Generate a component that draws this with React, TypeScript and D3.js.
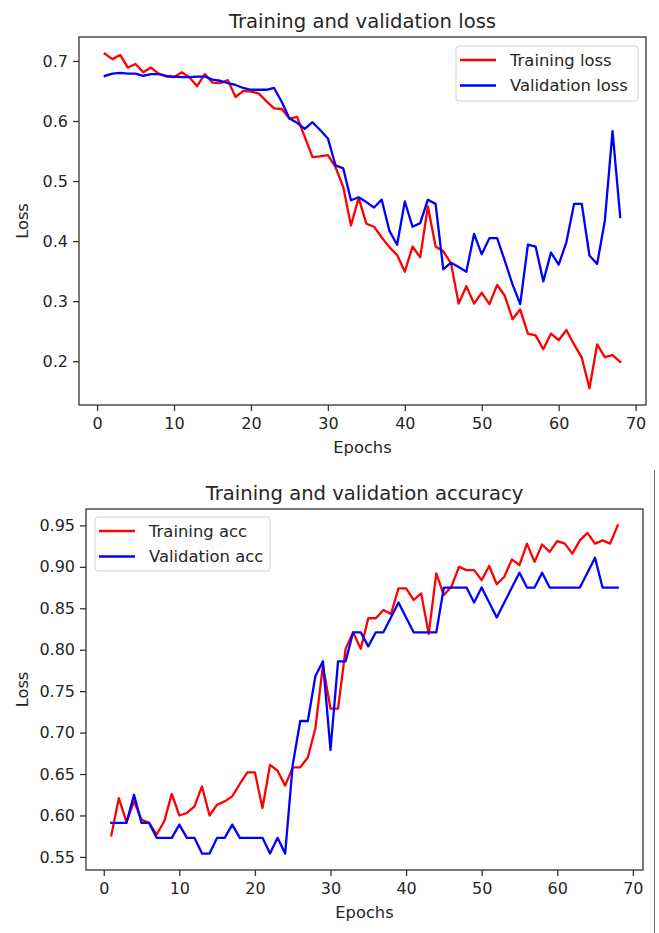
import React, { useRef, useEffect } from "react";
import * as d3 from "d3";

// values, one per epoch (1..68)
const trainLoss = [
  0.712, 0.703, 0.71, 0.689, 0.695, 0.681, 0.689, 0.679, 0.674, 0.673,
  0.681, 0.673, 0.658, 0.678, 0.664, 0.663, 0.668, 0.64, 0.65, 0.649,
  0.646, 0.633, 0.621, 0.62, 0.604, 0.607, 0.573, 0.54, 0.541, 0.543,
  0.523, 0.49, 0.426, 0.472, 0.429, 0.424, 0.406, 0.39, 0.377, 0.349,
  0.391, 0.373, 0.458, 0.391, 0.383, 0.363, 0.296, 0.325, 0.296, 0.314,
  0.295, 0.327, 0.309, 0.27, 0.286, 0.246, 0.243, 0.22, 0.246, 0.235,
  0.252, 0.228, 0.206, 0.155, 0.228, 0.207, 0.21, 0.199,
];
const valLoss = [
  0.675, 0.679, 0.68, 0.679, 0.679, 0.675, 0.678, 0.678, 0.675, 0.674,
  0.673, 0.673, 0.674, 0.674, 0.669, 0.667, 0.663, 0.66, 0.655, 0.652,
  0.652, 0.652, 0.655, 0.632, 0.604, 0.597, 0.587, 0.598, 0.585, 0.571,
  0.526, 0.521, 0.468, 0.473, 0.465, 0.456, 0.469, 0.417, 0.394, 0.466,
  0.424, 0.43, 0.469, 0.462, 0.353, 0.364, 0.357, 0.349, 0.412, 0.378,
  0.405, 0.405, 0.367, 0.328, 0.295, 0.394, 0.391, 0.333, 0.381, 0.361,
  0.398, 0.462, 0.462, 0.376, 0.362, 0.434, 0.583, 0.44,
];
const trainAcc = [
  0.576, 0.621, 0.592, 0.617, 0.595, 0.591, 0.577, 0.593, 0.626, 0.6,
  0.603, 0.611, 0.635, 0.6, 0.613, 0.617, 0.623, 0.638, 0.652, 0.652,
  0.609, 0.661, 0.654, 0.636, 0.658, 0.658, 0.67, 0.705, 0.781, 0.729,
  0.729, 0.801, 0.821, 0.801, 0.838, 0.838, 0.848, 0.843, 0.874, 0.874,
  0.86, 0.868, 0.819, 0.892, 0.866, 0.876, 0.9, 0.896, 0.896, 0.884,
  0.901, 0.879, 0.888, 0.909, 0.902, 0.928, 0.906, 0.927, 0.918, 0.931,
  0.928, 0.916, 0.932, 0.941, 0.928, 0.932, 0.928, 0.95,
];
const valAcc = [
  0.591, 0.591, 0.591, 0.625, 0.591, 0.591, 0.573, 0.573, 0.573, 0.589,
  0.573, 0.573, 0.554, 0.554, 0.573, 0.573, 0.589, 0.573, 0.573, 0.573,
  0.573, 0.554, 0.573, 0.554, 0.661, 0.714, 0.714, 0.768, 0.786, 0.679,
  0.786, 0.786, 0.821, 0.821, 0.804, 0.821, 0.821, 0.839, 0.857, 0.839,
  0.821, 0.821, 0.821, 0.821, 0.875, 0.875, 0.875, 0.875, 0.857, 0.875,
  0.857, 0.839, 0.857, 0.875, 0.893, 0.875, 0.875, 0.893, 0.875, 0.875,
  0.875, 0.875, 0.875, 0.893, 0.911, 0.875, 0.875, 0.875,
];

const xTicks = [0, 10, 20, 30, 40, 50, 60, 70];
const lossTicks = [0.2, 0.3, 0.4, 0.5, 0.6, 0.7];
const accTicks = [0.55, 0.6, 0.65, 0.7, 0.75, 0.8, 0.85, 0.9, 0.95];

const FONT = "DejaVu Sans";
const TEXT = "#262626";

// matplotlib style auto limits: 5% margin on the data range
const padded = (vals) => {
  const [lo, hi] = d3.extent(vals);
  const m = (hi - lo) * 0.05;
  return [lo - m, hi + m];
};

function drawPanel(svg, o) {
  const g = svg.append("g");
  const epochs = o.series[0].values.map((_, i) => i + 1);

  const x = d3
    .scaleLinear()
    .domain(padded(epochs))
    .range([o.left, o.right]);
  const y = d3
    .scaleLinear()
    .domain(padded(o.series.flatMap((s) => s.values)))
    .range([o.bottom, o.top]);

  const line = (vals) =>
    d3
      .line()
      .x((d, i) => x(i + 1))
      .y((d) => y(d))(vals);

  g.selectAll("path.series")
    .data(o.series)
    .enter()
    .append("path")
    .attr("class", "series")
    .attr("d", (s) => line(s.values))
    .attr("fill", "none")
    .attr("stroke", (s) => s.color)
    .attr("stroke-width", 2.3)
    .attr("stroke-linejoin", "round")
    .attr("stroke-linecap", "square");

  // x axis
  const xa = g
    .append("g")
    .attr("transform", `translate(0,${o.bottom})`)
    .call(
      d3.axisBottom(x).tickValues(xTicks).tickSize(6).tickPadding(7).tickSizeOuter(0)
    );
  // y axis
  const ya = g
    .append("g")
    .attr("transform", `translate(${o.left},0)`)
    .call(
      d3
        .axisLeft(y)
        .tickValues(o.yTicks)
        .tickFormat(d3.format(o.yFormat))
        .tickSize(6)
        .tickPadding(5)
        .tickSizeOuter(0)
    );
  [xa, ya].forEach((a) => {
    a.select(".domain").remove();
    a.selectAll("line").attr("stroke", "#333").attr("stroke-width", 1.3);
    a.selectAll("text")
      .attr("fill", TEXT)
      .style("font-family", FONT)
      .style("font-size", "16px");
  });

  // spines
  g.append("rect")
    .attr("x", o.left)
    .attr("y", o.top)
    .attr("width", o.right - o.left)
    .attr("height", o.bottom - o.top)
    .attr("fill", "none")
    .attr("stroke", "#333")
    .attr("stroke-width", 1.3);

  const cx = (o.left + o.right) / 2;
  g.append("text")
    .attr("x", cx)
    .attr("y", o.top - 9)
    .attr("text-anchor", "middle")
    .attr("fill", TEXT)
    .style("font-family", FONT)
    .style("font-size", "19.6px")
    .text(o.title);

  g.append("text")
    .attr("x", cx)
    .attr("y", o.bottom + 48)
    .attr("text-anchor", "middle")
    .attr("fill", TEXT)
    .style("font-family", FONT)
    .style("font-size", "16.3px")
    .text("Epochs");

  g.append("text")
    .attr(
      "transform",
      `translate(28,${(o.top + o.bottom) / 2}) rotate(-90)`
    )
    .attr("text-anchor", "middle")
    .attr("fill", TEXT)
    .style("font-family", FONT)
    .style("font-size", "16.3px")
    .text("Loss");

  // legend
  const lg = g.append("g").attr("transform", `translate(${o.legend.x},${o.legend.y})`);
  lg.append("rect")
    .attr("width", o.legend.w)
    .attr("height", o.legend.h)
    .attr("rx", 3)
    .attr("fill", "white")
    .attr("fill-opacity", 0.8)
    .attr("stroke", "#d0d0d0")
    .attr("stroke-width", 1);
  const item = lg
    .selectAll(".item")
    .data(o.series)
    .enter()
    .append("g")
    .attr("class", "item")
    .attr("transform", (d, i) => `translate(0,${14 + i * 25.5})`);
  item
    .append("line")
    .attr("x1", 4)
    .attr("x2", 40)
    .attr("stroke", (d) => d.color)
    .attr("stroke-width", 2.3);
  item
    .append("text")
    .attr("x", 54)
    .attr("dy", "0.35em")
    .attr("fill", TEXT)
    .style("font-family", FONT)
    .style("font-size", "16.4px")
    .text((d) => d.name);
}

const App = () => {
  const ref = useRef(null);

  useEffect(() => {
    const svg = d3.select(ref.current);
    svg.selectAll("*").remove();
    svg.append("rect").attr("width", 659).attr("height", 933).attr("fill", "white");

    drawPanel(svg, {
      left: 79,
      right: 646,
      top: 37,
      bottom: 405,
      title: "Training and validation loss",
      yTicks: lossTicks,
      yFormat: ".1f",
      series: [
        { name: "Training loss", values: trainLoss, color: "#ff0000" },
        { name: "Validation loss", values: valLoss, color: "#0000ff" },
      ],
      legend: { x: 456, y: 46, w: 182, h: 55 },
    });

    drawPanel(svg, {
      left: 86,
      right: 643,
      top: 509,
      bottom: 870,
      title: "Training and validation accuracy",
      yTicks: accTicks,
      yFormat: ".2f",
      series: [
        { name: "Training acc", values: trainAcc, color: "#ff0000" },
        { name: "Validation acc", values: valAcc, color: "#0000ff" },
      ],
      legend: { x: 95, y: 517, w: 175, h: 54 },
    });

    // screenshot edge on the right of the lower figure
    svg
      .append("line")
      .attr("x1", 654.5)
      .attr("x2", 654.5)
      .attr("y1", 470)
      .attr("y2", 933)
      .attr("stroke", "#777")
      .attr("stroke-width", 1);
  }, []);

  return (
    <svg
      ref={ref}
      width={659}
      height={933}
      style={{ position: "absolute", left: 0, top: 0, display: "block" }}
    ></svg>
  );
};

export default App;
